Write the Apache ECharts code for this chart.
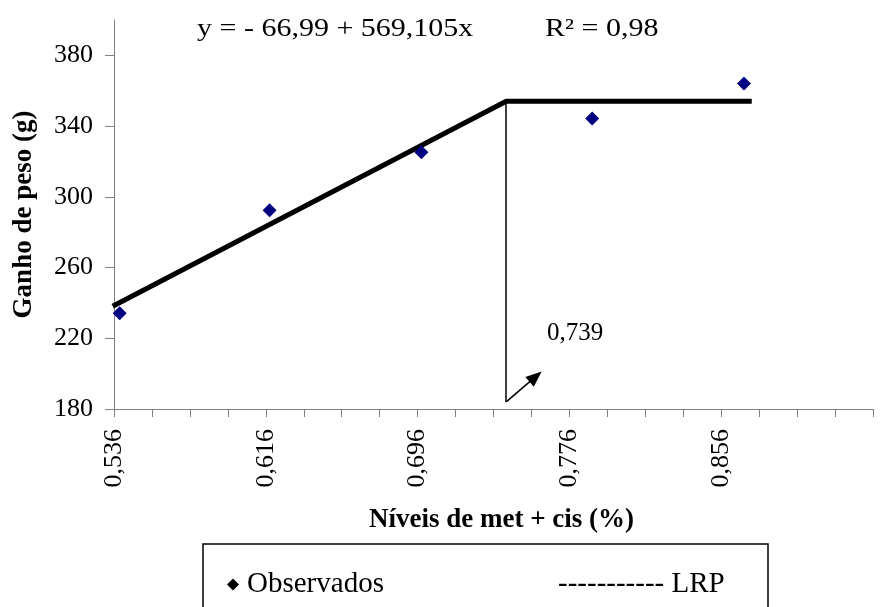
<!DOCTYPE html>
<html lang="pt">
<head>
    <meta charset="utf-8" />
    <title>Ganho de peso x met + cis</title>
    <script src="https://cdn.jsdelivr.net/npm/echarts@6/dist/echarts.min.js"></script>
    <style>
        html, body { margin: 0; background: #FFFFFF; }
        #chart { width: 882px; height: 607px; }
    </style>
</head>
<body>
<div id="chart"></div>
<script>
// valores
var observadosX = [0.539, 0.618, 0.698, 0.788, 0.868];
var observadosY = [234.2, 292.4, 325.2, 344.3, 364.1];
// LRP: início, ponto de quebra, platô
var lrpX = [0.5353, 0.7427, 0.8721];
var lrpY = [238.1, 354.1, 354.1];
// linha vertical + seta do ponto de quebra
var quebraX = 0.7427, quebraTopo = 354.1, quebraBase = 184;
var setaPonta = [0.7582, 198.3];
var xTickLabels = [0.536, 0.616, 0.696, 0.776, 0.856];
var yTickLabels = [180, 220, 260, 300, 340, 380];

var fonte = 'Liberation Serif';
var chart = echarts.init(document.getElementById('chart'), null, { renderer: 'canvas' });

function virgula(v, casas) {
    return v.toFixed(casas).replace('.', ',');
}

chart.setOption({
    animation: false,
    backgroundColor: '#FFFFFF',
    textStyle: { fontFamily: fonte, color: '#000' },
    grid: { left: 114, top: 20, width: 759, height: 389 },
    xAxis: {
        type: 'value',
        min: 0.536,
        max: 0.936,
        interval: 0.02,
        name: 'Níveis de met + cis (%)',
        nameLocation: 'middle',
        nameGap: 98,
        nameTextStyle: { fontFamily: fonte, fontWeight: 'bold', fontSize: 27, color: '#000', padding: [0, 0, 0, 16] },
        axisLine: { lineStyle: { color: '#808080', width: 1 } },
        axisTick: { length: 8, lineStyle: { color: '#808080' } },
        splitLine: { show: false },
        axisLabel: {
            customValues: xTickLabels,
            rotate: 90,
            margin: 20,
            fontSize: 26,
            fontFamily: fonte,
            color: '#000',
            formatter: function (v) { return virgula(v, 3); }
        }
    },
    yAxis: {
        type: 'value',
        min: 180,
        max: 400,
        name: 'Ganho de peso (g)',
        nameLocation: 'middle',
        nameGap: 76,
        nameTextStyle: { fontFamily: fonte, fontWeight: 'bold', fontSize: 27, color: '#000' },
        axisLine: { show: true, lineStyle: { color: '#808080', width: 1 } },
        axisTick: { show: true, length: 9, customValues: yTickLabels, lineStyle: { color: '#808080' } },
        splitLine: { show: false },
        axisLabel: {
            customValues: yTickLabels,
            margin: 21,
            fontSize: 26,
            fontFamily: fonte,
            color: '#000'
        }
    },
    legend: [{
        data: [{ name: 'Observados', icon: 'diamond', itemStyle: { color: '#000' } }],
        left: 222,
        top: 565,
        itemWidth: 12,
        itemHeight: 12,
        itemGap: 0,
        textStyle: { fontFamily: fonte, fontSize: 29, color: '#000', padding: [0, 0, 0, 3] }
    }, {
        data: [{ name: 'LRP', icon: 'rect', itemStyle: { color: 'rgba(0,0,0,0)' } }],
        left: 536,
        top: 565,
        itemWidth: 12,
        itemHeight: 12,
        textStyle: { fontFamily: fonte, fontSize: 29, color: '#000' },
        formatter: function (name) { return '----------- ' + name; }
    }],
    graphic: [{
        type: 'rect',
        silent: true,
        z: -1,
        shape: { x: 203, y: 544, width: 565, height: 100 },
        style: { fill: '#FFFFFF', stroke: '#000', lineWidth: 1.5 }
    }, {
        type: 'text',
        x: 197,
        y: 17,
        scaleX: 1.2,
        style: { text: 'y = - 66,99 + 569,105x', font: '25px "Liberation Serif"', fill: '#000', verticalAlign: 'top' }
    }, {
        type: 'text',
        x: 545,
        y: 17,
        scaleX: 1.2,
        style: { text: 'R² = 0,98', font: '25px "Liberation Serif"', fill: '#000', verticalAlign: 'top' }
    }, {
        type: 'text',
        x: 547,
        y: 321,
        style: { text: '0,739', font: '25px "Liberation Serif"', fill: '#000', verticalAlign: 'top' }
    }],
    series: [{
        name: 'Observados',
        type: 'scatter',
        symbol: 'diamond',
        symbolSize: 14,
        itemStyle: { color: '#000080', opacity: 1 },
        data: observadosX.map(function (x, i) { return [x, observadosY[i]]; }),
        z: 3
    }, {
        name: 'LRP',
        type: 'line',
        symbol: 'none',
        color: '#000',
        lineStyle: { color: '#000', width: 5 },
        data: lrpX.map(function (x, i) { return [x, lrpY[i]]; }),
        markLine: {
            silent: true,
            animation: false,
            label: { show: false },
            lineStyle: { color: '#000', width: 1.5, type: 'solid' },
            data: [
                [{ coord: [quebraX, quebraTopo], symbol: 'none' }, { coord: [quebraX, quebraBase], symbol: 'none' }],
                [{ coord: [quebraX, quebraBase], symbol: 'none' }, { coord: setaPonta, symbol: 'triangle', symbolSize: [13, 16] }]
            ]
        },
        z: 2
    }]
});
</script>
</body>
</html>
